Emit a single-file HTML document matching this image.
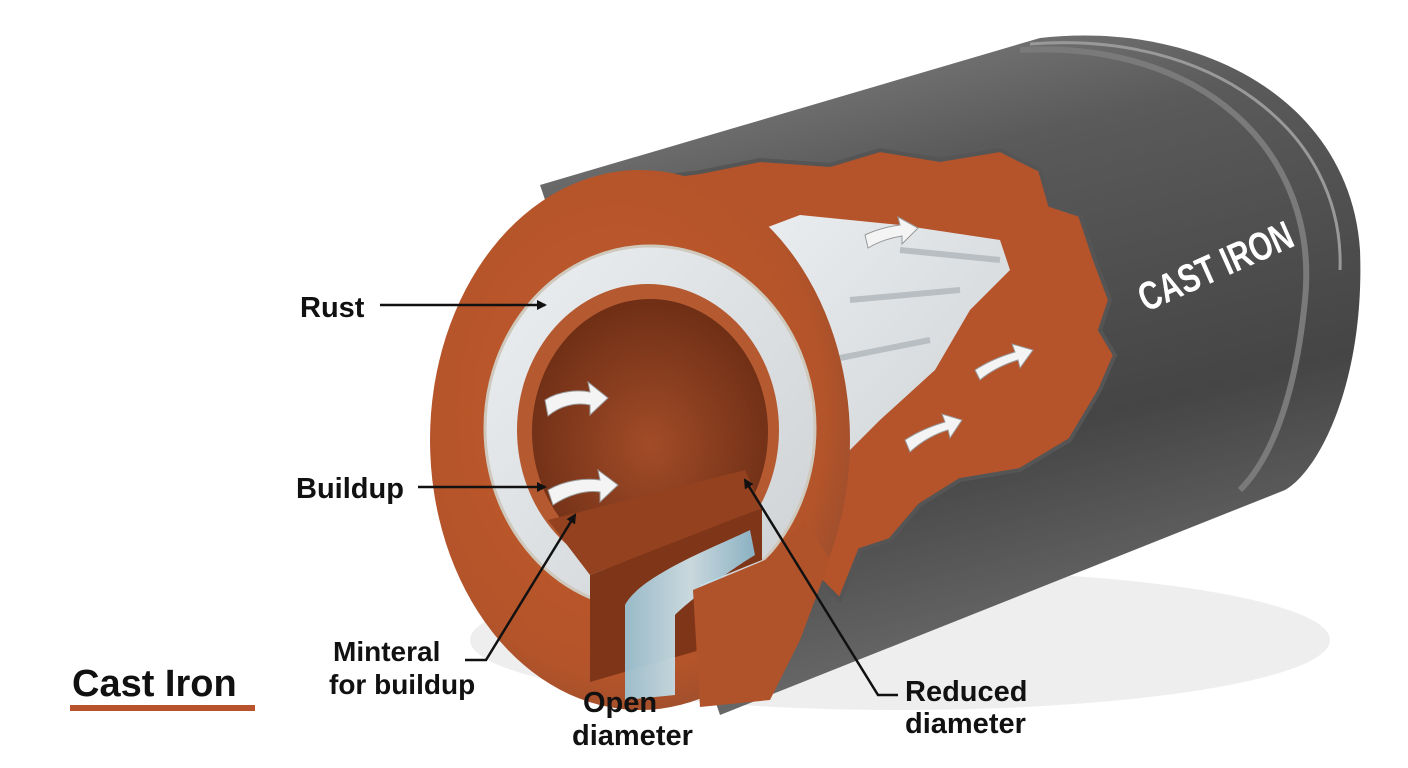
<!DOCTYPE html>
<html><head><meta charset="utf-8"><style>
html,body{margin:0;padding:0;background:#fff}
svg{display:block}
text{font-family:"Liberation Sans",sans-serif;font-weight:bold}
</style></head><body>
<svg width="1408" height="768" viewBox="0 0 1408 768" xmlns="http://www.w3.org/2000/svg">
<defs>
<linearGradient id="body" x1="0" y1="0" x2="0.3" y2="1">
<stop offset="0" stop-color="#8a8a8a"/><stop offset="0.3" stop-color="#5a5a5a"/><stop offset="0.7" stop-color="#454545"/><stop offset="1" stop-color="#6a6a6a"/>
</linearGradient>
<radialGradient id="rust" cx="0.45" cy="0.45" r="0.65">
<stop offset="0" stop-color="#c45a2c"/><stop offset="0.75" stop-color="#b4542a"/><stop offset="1" stop-color="#8e4a2e"/>
</radialGradient>
<radialGradient id="inner" cx="0.5" cy="0.55" r="0.6">
<stop offset="0" stop-color="#a24c28"/><stop offset="1" stop-color="#6a2c14"/>
</radialGradient>
<linearGradient id="white" x1="0" y1="0" x2="1" y2="1">
<stop offset="0" stop-color="#eceff1"/><stop offset="1" stop-color="#cdd1d4"/>
</linearGradient>
<linearGradient id="water" x1="0" y1="0" x2="1" y2="0">
<stop offset="0" stop-color="#9cc9dc"/><stop offset="0.5" stop-color="#d2eaf3"/><stop offset="1" stop-color="#8cbfd6"/>
</linearGradient>
<marker id="ah" markerWidth="10" markerHeight="10" refX="8" refY="5" orient="auto" markerUnits="userSpaceOnUse"><path d="M0,0 L10,5 L0,10 Z" fill="#111"/></marker>
</defs>

<ellipse cx="900" cy="640" rx="430" ry="70" fill="#eee"/>
<path d="M540 185 L1040 38 C1200 20 1350 100 1360 250 C1365 380 1320 470 1285 490 L720 715 Z" fill="url(#body)"/>
<path d="M1020 50 C1200 40 1320 150 1305 300 C1295 400 1270 460 1240 490" fill="none" stroke="#7a7a7a" stroke-width="6"/>
<path d="M1030 44 C1210 30 1345 130 1340 270" fill="none" stroke="#999" stroke-width="3"/>

<path d="M640 180 L700 172 L760 160 L830 165 L880 150 L940 160 L1000 150 L1040 170 L1050 205 L1080 215 L1095 260 L1110 300 L1100 330 L1115 355 L1100 390 L1070 440 L1020 470 L960 480 L920 505 L890 540 L860 550 L840 600 L800 560 Z" fill="#b5532b" stroke="#555" stroke-width="4"/>
<path d="M720 245 L800 215 L900 225 L1000 240 L1010 270 L970 310 L935 370 L880 420 L830 470 L790 520 L770 450 Z" fill="url(#white)"/>
<path d="M720 245 L760 240 L790 280 L790 330 L765 370 L750 330 Z" fill="#b7d9e4" opacity="0.8"/>
<path d="M900 250 L1000 260 M850 300 L960 290 M830 360 L930 340" stroke="#b9bec2" stroke-width="6" fill="none"/>

<ellipse cx="640" cy="440" rx="210" ry="270" fill="url(#rust)"/>
<ellipse cx="650" cy="428" rx="165" ry="182" fill="url(#white)" stroke="#cfc8bc" stroke-width="3"/>
<ellipse cx="648" cy="430" rx="131" ry="146" fill="#b55a30"/>
<ellipse cx="650" cy="432" rx="118" ry="133" fill="url(#inner)"/>
<!-- block -->
<path d="M548 520 L745 470 L762 508 L590 575 Z" fill="#93411e"/>
<path d="M590 575 L762 508 L762 560 L700 585 L700 650 L590 682 Z" fill="#7f3518"/>
<path d="M750 530 C720 545 640 575 625 605 L625 700 L675 695 L675 615 C690 600 730 570 755 555 Z" fill="url(#water)" opacity="0.9"/>
<path d="M693 590 L765 560 L805 520 L830 560 L800 640 L770 700 L700 707 Z" fill="#b0532a"/>

<g fill="#f4f4f4" stroke="#999" stroke-width="1">
<path d="M545 400 C560 390 580 390 590 392 L588 382 L608 398 L590 415 L590 405 C575 402 560 406 548 416 Z"/>
<path d="M548 490 C565 480 585 478 600 480 L598 470 L618 485 L600 502 L600 492 C585 490 568 495 553 505 Z"/>
<path d="M865 235 C875 230 890 226 900 225 L898 217 L918 228 L902 244 L902 236 C890 238 878 242 868 248 Z"/>
<path d="M975 370 C990 360 1005 355 1015 352 L1012 344 L1033 350 L1020 368 L1018 360 C1005 364 992 370 980 380 Z"/>
<path d="M905 440 C920 430 935 425 945 422 L942 414 L962 420 L950 438 L948 430 C935 434 922 441 910 452 Z"/>
</g>

<text x="1215" y="280" fill="#fff" font-size="40" text-anchor="middle" transform="rotate(-24 1215 265)" textLength="165" lengthAdjust="spacingAndGlyphs">CAST IRON</text>

<g fill="#111">
<text x="300" y="317" font-size="29">Rust</text>
<text x="296" y="498" font-size="29">Buildup</text>
<text x="333" y="661" font-size="28">Minteral</text>
<text x="329" y="694" font-size="28">for buildup</text>
<text x="583" y="712" font-size="29">Open</text>
<text x="572" y="745" font-size="29">diameter</text>
<text x="905" y="701" font-size="29">Reduced</text>
<text x="905" y="733" font-size="29">diameter</text>
<text x="72" y="696" font-size="38">Cast Iron</text>
</g>
<rect x="70" y="705" width="185" height="6" fill="#b9532d"/>

<g stroke="#111" stroke-width="2.5" fill="none">
<path d="M380 305 L545 305" marker-end="url(#ah)"/>
<path d="M418 487 L545 487" marker-end="url(#ah)"/>
<path d="M465 660 L486 660 L575 515" marker-end="url(#ah)"/>
<path d="M898 695 L878 695 L745 480" marker-end="url(#ah)"/>
</g>
</svg>
</body></html>
